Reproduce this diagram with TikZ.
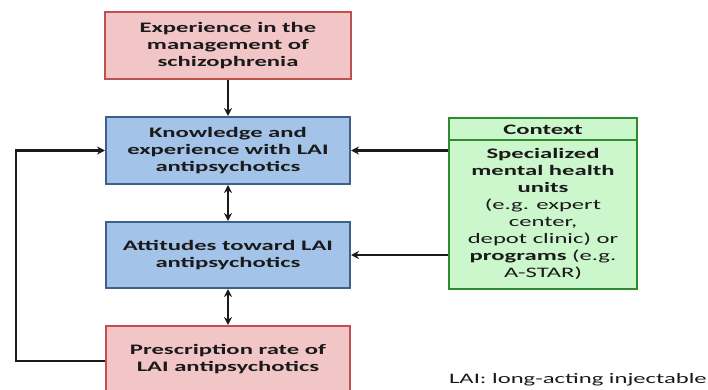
\documentclass[tikz,border=0pt]{standalone}
\usepackage{fontspec}
\setmainfont[FakeStretch=1.7]{Carlito}
\usetikzlibrary{arrows.meta,calc}
\definecolor{redfill}{HTML}{F2C6C6}
\definecolor{reddraw}{HTML}{C0504D}
\definecolor{bluefill}{HTML}{A3C3E8}
\definecolor{bluedraw}{HTML}{3F5F8A}
\definecolor{greenfill}{HTML}{CCF7CC}
\definecolor{greendraw}{HTML}{2E8B2E}
\definecolor{ink}{HTML}{1A1A1A}
\begin{document}
\begin{tikzpicture}[x=1pt,y=-1pt,
  boxbase/.style={rectangle, line width=2pt, align=center, inner sep=0pt,
    font=\fontsize{14.5}{17}\selectfont\bfseries, text=ink},
  redbox/.style={boxbase, fill=redfill, draw=reddraw},
  bluebox/.style={boxbase, fill=bluefill, draw=bluedraw},
  greenbox/.style={rectangle, line width=2pt, fill=greenfill, draw=greendraw, inner sep=0pt},
  arr/.style={draw=ink, line width=2pt, -{Stealth[length=8pt,width=8pt]}},
  darr/.style={draw=ink, line width=2pt, {Stealth[length=8pt,width=8pt]}-{Stealth[length=8pt,width=8pt]}},
  ctxtext/.style={align=center, font=\fontsize{14.5}{17}\selectfont, text=ink, inner sep=0pt}
]
\useasboundingbox (0,0) rectangle (708,390);
\node[redbox, minimum width=246pt, minimum height=67pt] (exp) at (228,45.5)
  {Experience in the\\management of\\schizophrenia};
\node[bluebox, minimum width=244pt, minimum height=67pt] (know) at (228,150.5)
  {Knowledge and\\experience with LAI\\antipsychotics};
\node[bluebox, minimum width=244pt, minimum height=66pt] (att) at (228,255)
  {Attitudes toward LAI\\antipsychotics};
\node[redbox, minimum width=244pt, minimum height=66pt] (presc) at (228,359)
  {Prescription rate of\\LAI antipsychotics};
\node[greenbox, minimum width=188pt, minimum height=171pt] (ctx) at (543,203.5) {};
\coordinate (hdrL) at ($(ctx.north west)+(0,23)$);
\coordinate (hdrR) at ($(ctx.north east)+(0,23)$);
\draw[draw=greendraw, line width=2pt] (hdrL) -- (hdrR);
\node[ctxtext, font=\fontsize{14.5}{17}\selectfont\bfseries] (ctxhead) at (543,130) {Context};
\node[ctxtext, anchor=north] (ctxbody) at (543,148)
  {\bfseries Specialized\\\bfseries mental health\\\bfseries units\\(e.g. expert\\center,\\depot clinic) or\\\textbf{programs} (e.g.\\A-STAR)};
\node[font=\fontsize{14.5}{17}\selectfont, text=ink, anchor=east, inner sep=0pt] (note) at (707,380) {LAI: long-acting injectable};
\coordinate (fb) at (16,361);
\draw[arr] (exp.south) -- (know.north);
\draw[darr] (know.south) -- (att.north);
\draw[darr] (att.south) -- (presc.north);
\draw[arr] (ctx.west |- know.east) -- (know.east);
\draw[arr] (ctx.west |- att.east) -- (att.east);
\draw[arr] (presc.west |- fb) -- (fb) |- (know.west);
\end{tikzpicture}
\end{document}
